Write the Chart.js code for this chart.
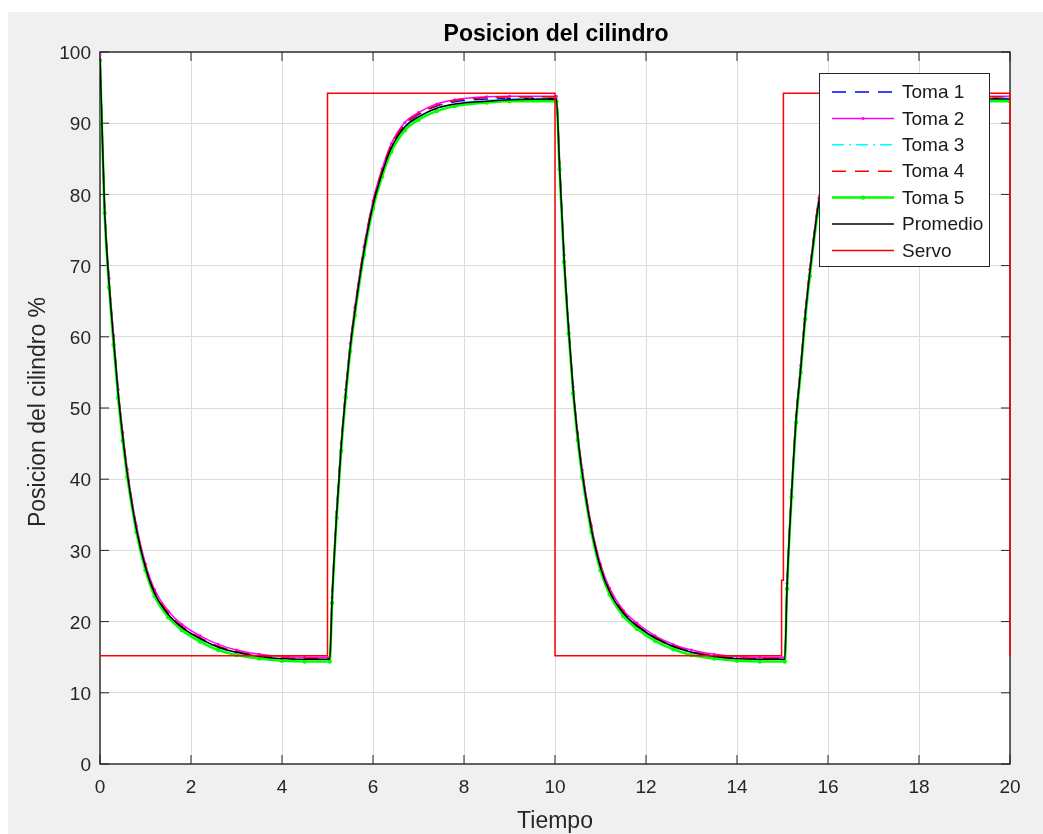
<!DOCTYPE html>
<html>
<head>
<meta charset="utf-8">
<title>Posicion del cilindro</title>
<script src="https://cdn.jsdelivr.net/npm/chart.js@4.4.1/dist/chart.umd.min.js"></script>
<style>
  html, body { margin: 0; padding: 0; background: #ffffff; }
  #wrap { position: relative; width: 1043px; height: 834px; }
</style>
</head>
<body>
<div id="wrap"><canvas id="posicionChart" width="1043" height="834"></canvas></div>
<script>
// tiempo de muestreo comun a las cinco tomas y al promedio (s)
const tiempo = [
  0, 0.1, 0.2, 0.3, 0.4, 0.5, 0.6, 0.8, 1.0, 1.2, 1.5, 1.8, 2.2, 2.6, 3.0, 3.5, 4.0, 4.5, 5.05,
  5.1, 5.2, 5.3, 5.4, 5.5, 5.6, 5.8, 6.0, 6.2, 6.4, 6.7, 7.0, 7.4, 7.8, 8.5, 9.0, 10.03,
  10.1, 10.2, 10.3, 10.4, 10.5, 10.6, 10.8, 11.0, 11.2, 11.5, 11.8, 12.2, 12.6, 13.0, 13.5, 14.0, 14.5, 15.05,
  15.1, 15.2, 15.3, 15.4, 15.5, 15.6, 15.8, 16.0, 16.2, 16.4, 16.7, 17.0, 17.4, 17.8, 18.5, 19.0, 20.0
]

const toma1 = [
  99.3, 78.3, 67.8, 59.7, 52.2, 46.2, 41.0, 33.2, 27.7, 24.1, 21.1, 19.3, 17.7, 16.5, 15.8, 15.2, 14.9, 14.8, 14.8,
  23.2, 35.3, 44.8, 52.3, 58.8, 63.8, 72.3, 78.8, 83.3, 86.8, 89.8, 91.2, 92.4, 93.0, 93.4, 93.5, 93.5,
  84.2, 71.2, 61.2, 52.7, 46.2, 41.0, 33.2, 27.8, 24.3, 21.3, 19.5, 17.8, 16.6, 15.8, 15.2, 14.9, 14.8, 14.8,
  25.2, 38.3, 48.8, 55.8, 63.3, 69.3, 79.3, 84.8, 87.8, 89.8, 91.3, 92.3, 93.0, 93.3, 93.5, 93.5, 93.5
]

const toma2 = [
  99.6, 78.6, 68.2, 60.2, 52.6, 46.6, 41.4, 33.5, 28.1, 24.5, 21.5, 19.6, 18.0, 16.8, 16.0, 15.4, 15.1, 15.0, 15.0,
  23.4, 35.4, 45.0, 52.6, 59.1, 64.1, 72.6, 79.1, 83.6, 87.1, 90.1, 91.5, 92.7, 93.3, 93.7, 93.8, 93.8,
  84.5, 71.5, 61.5, 53.0, 46.5, 41.3, 33.5, 28.1, 24.7, 21.6, 19.8, 18.0, 16.8, 16.0, 15.4, 15.1, 15.0, 15.0,
  25.4, 38.5, 49.0, 56.0, 63.5, 69.5, 79.5, 85.0, 88.0, 90.0, 91.6, 92.6, 93.3, 93.6, 93.8, 93.8, 93.8
]

const toma3 = [
  99.0, 77.8, 67.3, 59.3, 51.8, 45.8, 40.6, 32.9, 27.5, 23.9, 20.9, 19.1, 17.5, 16.3, 15.6, 15.0, 14.8, 14.7, 14.7,
  22.8, 34.8, 44.3, 51.8, 58.3, 63.3, 71.8, 78.3, 82.8, 86.3, 89.3, 90.8, 92.0, 92.7, 93.2, 93.4, 93.5,
  83.8, 70.8, 60.8, 52.3, 45.8, 40.6, 32.9, 27.5, 24.1, 21.1, 19.3, 17.6, 16.4, 15.6, 15.0, 14.8, 14.7, 14.7,
  24.8, 37.8, 48.3, 55.3, 62.8, 68.8, 78.8, 84.3, 87.3, 89.3, 90.9, 91.9, 92.7, 93.1, 93.4, 93.5, 93.5
]

const toma4 = [
  99.4, 78.4, 67.9, 59.9, 52.3, 46.3, 41.1, 33.3, 27.8, 24.2, 21.2, 19.3, 17.7, 16.5, 15.8, 15.2, 14.9, 14.8, 14.8,
  23.3, 35.4, 44.9, 52.4, 58.9, 63.9, 72.4, 78.9, 83.4, 86.9, 89.9, 91.3, 92.5, 93.2, 93.6, 93.7, 93.7,
  84.3, 71.3, 61.3, 52.8, 46.3, 41.1, 33.3, 27.9, 24.4, 21.4, 19.5, 17.8, 16.6, 15.8, 15.2, 14.9, 14.8, 14.8,
  25.3, 38.4, 48.9, 55.9, 63.4, 69.4, 79.4, 84.9, 87.9, 89.9, 91.4, 92.4, 93.1, 93.4, 93.6, 93.7, 93.7
]

const toma5 = [
  98.8, 77.4, 66.9, 58.9, 51.4, 45.4, 40.3, 32.6, 27.2, 23.6, 20.6, 18.8, 17.2, 16.0, 15.3, 14.8, 14.5, 14.4, 14.4,
  22.6, 34.6, 44.0, 51.5, 58.0, 63.0, 71.5, 78.0, 82.5, 86.0, 89.0, 90.5, 91.7, 92.4, 92.9, 93.1, 93.1,
  83.5, 70.5, 60.5, 52.0, 45.5, 40.3, 32.6, 27.2, 23.8, 20.8, 19.0, 17.3, 16.1, 15.3, 14.8, 14.5, 14.4, 14.4,
  24.6, 37.5, 48.0, 55.0, 62.5, 68.5, 78.5, 84.0, 87.0, 89.0, 90.6, 91.6, 92.4, 92.8, 93.0, 93.1, 93.1
]

const promedio = [
  99.2, 78.0, 67.5, 59.5, 52.0, 46.0, 40.8, 33.0, 27.6, 24.0, 21.0, 19.2, 17.6, 16.4, 15.7, 15.1, 14.8, 14.7, 14.7,
  23.0, 35.0, 44.5, 52.0, 58.5, 63.5, 72.0, 78.5, 83.0, 86.5, 89.5, 90.9, 92.1, 92.7, 93.1, 93.3, 93.4,
  84.0, 71.0, 61.0, 52.5, 46.0, 40.8, 33.0, 27.6, 24.2, 21.2, 19.4, 17.7, 16.5, 15.7, 15.1, 14.8, 14.7, 14.7,
  25.0, 38.0, 48.5, 55.5, 63.0, 69.0, 79.0, 84.5, 87.5, 89.5, 91.0, 92.0, 92.7, 93.0, 93.3, 93.4, 93.4
]

// consigna del servo
const servoTiempo = [0, 5, 5, 10, 10, 14.98, 14.98, 15.02, 15.02, 20, 20]
const servoValor = [15.2, 15.2, 94.2, 94.2, 15.2, 15.2, 25.8, 25.8, 94.2, 94.2, 15.2]

const xTicks = [0, 2, 4, 6, 8, 10, 12, 14, 16, 18, 20]
const yTicks = [0, 10, 20, 30, 40, 50, 60, 70, 80, 90, 100]

const FONT = "\"Liberation Sans\", Arial, Helvetica, sans-serif"
const AXIS_COLOR = "#262626"

const toPoints = (xs, ys) => xs.map((x, i) => ({ x, y: ys[i] }))

function serie(label, valores, color, extra) {
  return Object.assign({
    label,
    data: toPoints(tiempo, valores),
    borderColor: color,
    backgroundColor: color,
    borderWidth: 1.5,
    pointRadius: 0,
    cubicInterpolationMode: "monotone",
    fill: false
  }, extra)
}

const datasets = [
  serie("Toma 1", toma1, "#0000ff", { borderDash: [14, 9], order: 6 }),
  serie("Toma 2", toma2, "#ff00ff", {
    order: 5, pointRadius: 1.5, pointBorderWidth: 0, pointBackgroundColor: "#ff00ff"
  }),
  serie("Toma 3", toma3, "#00ffff", { borderDash: [12, 5, 2, 5], order: 4 }),
  serie("Toma 4", toma4, "#ff0000", { borderDash: [14, 9], order: 3 }),
  serie("Toma 5", toma5, "#00ff00", {
    order: 2, borderWidth: 2.5, pointRadius: 2.2, pointBorderWidth: 0, pointBackgroundColor: "#00ff00"
  }),
  serie("Promedio", promedio, "#000000", { order: 1 }),
  {
    label: "Servo",
    data: toPoints(servoTiempo, servoValor),
    borderColor: "#ff0000",
    borderWidth: 1.5,
    pointRadius: 0,
    tension: 0,
    fill: false,
    clip: 4,
    order: 0
  }
]

// marco estilo MATLAB: fondo gris, caja, marcas hacia dentro, titulos y leyenda
const marcoPlugin = {
  id: "marco",
  beforeDraw(chart) {
    const { ctx, chartArea: a } = chart
    ctx.save()
    ctx.fillStyle = "#ffffff"
    ctx.fillRect(0, 0, chart.width, chart.height)
    ctx.fillStyle = "#f0f0f0"
    ctx.fillRect(8, 12, chart.width - 8, chart.height - 12)
    ctx.fillStyle = "#ffffff"
    ctx.fillRect(a.left, a.top, a.right - a.left, a.bottom - a.top)
    ctx.restore()
  },
  beforeDatasetsDraw(chart) {
    const { ctx, chartArea: a, scales } = chart
    const len = 9
    ctx.save()
    ctx.strokeStyle = AXIS_COLOR
    ctx.lineWidth = 1
    ctx.beginPath()
    xTicks.forEach(v => {
      const px = scales.x.getPixelForValue(v)
      ctx.moveTo(px, a.bottom)
      ctx.lineTo(px, a.bottom - len)
      ctx.moveTo(px, a.top)
      ctx.lineTo(px, a.top + len)
    })
    yTicks.forEach(v => {
      const py = scales.y.getPixelForValue(v)
      ctx.moveTo(a.left, py)
      ctx.lineTo(a.left + len, py)
      ctx.moveTo(a.right, py)
      ctx.lineTo(a.right - len, py)
    })
    ctx.stroke()
    ctx.lineWidth = 1.4
    ctx.strokeRect(a.left, a.top, a.right - a.left, a.bottom - a.top)
    ctx.restore()
  },
  afterDraw(chart) {
    const { ctx, chartArea: a } = chart
    const cx = (a.left + a.right) / 2
    const cy = (a.top + a.bottom) / 2
    ctx.save()

    ctx.fillStyle = "#000000"
    ctx.font = "bold 23px " + FONT
    ctx.textAlign = "center"
    ctx.textBaseline = "alphabetic"
    ctx.fillText("Posicion del cilindro", cx + 1, 41)

    ctx.fillStyle = AXIS_COLOR
    ctx.font = "23px " + FONT
    ctx.fillText("Tiempo", cx, 828)

    ctx.save()
    ctx.translate(45, cy + 4)
    ctx.rotate(-Math.PI / 2)
    ctx.fillText("Posicion del cilindro %", 0, 0)
    ctx.restore()

    // leyenda
    const box = { x: 819, y: 73, w: 170, h: 193 }
    ctx.fillStyle = "#ffffff"
    ctx.fillRect(box.x, box.y, box.w, box.h)
    ctx.strokeStyle = AXIS_COLOR
    ctx.lineWidth = 1
    ctx.strokeRect(box.x + 0.5, box.y + 0.5, box.w, box.h)

    const rowH = 26.4
    chart.data.datasets.forEach((ds, i) => {
      const y = box.y + 19 + i * rowH
      ctx.save()
      ctx.strokeStyle = ds.borderColor
      ctx.lineWidth = ds.borderWidth
      ctx.setLineDash(ds.borderDash || [])
      ctx.beginPath()
      ctx.moveTo(832, y)
      ctx.lineTo(894, y)
      ctx.stroke()
      if (ds.pointRadius) {
        ctx.fillStyle = ds.borderColor
        ctx.beginPath()
        ctx.arc(863, y, ds.pointRadius, 0, Math.PI * 2)
        ctx.fill()
      }
      ctx.restore()
      ctx.fillStyle = "#1a1a1a"
      ctx.font = "19px " + FONT
      ctx.textAlign = "left"
      ctx.textBaseline = "middle"
      ctx.fillText(ds.label, 902, y + 1)
    })

    ctx.restore()
  }
}

Chart.defaults.font.family = FONT

new Chart(document.getElementById("posicionChart"), {
  type: "line",
  data: { datasets },
  options: {
    responsive: false,
    animation: false,
    events: [],
    layout: { padding: { top: 52, right: 33, bottom: 0, left: 0 } },
    plugins: {
      legend: { display: false },
      title: { display: false },
      tooltip: { enabled: false }
    },
    scales: {
      x: {
        type: "linear",
        min: 0,
        max: 20,
        ticks: {
          stepSize: 2,
          color: AXIS_COLOR,
          font: { size: 19 },
          padding: 12,
          maxRotation: 0
        },
        grid: { color: "#dcdcdc", drawTicks: false },
        border: { display: false },
        afterFit: scale => { scale.height = 70 }
      },
      y: {
        type: "linear",
        min: 0,
        max: 100,
        ticks: {
          stepSize: 10,
          color: AXIS_COLOR,
          font: { size: 19 },
          padding: 9,
          labelOffset: 2
        },
        grid: { color: "#dcdcdc", drawTicks: false },
        border: { display: false },
        afterFit: scale => { scale.width = 100 }
      }
    }
  },
  plugins: [marcoPlugin]
})
</script>
</body>
</html>
